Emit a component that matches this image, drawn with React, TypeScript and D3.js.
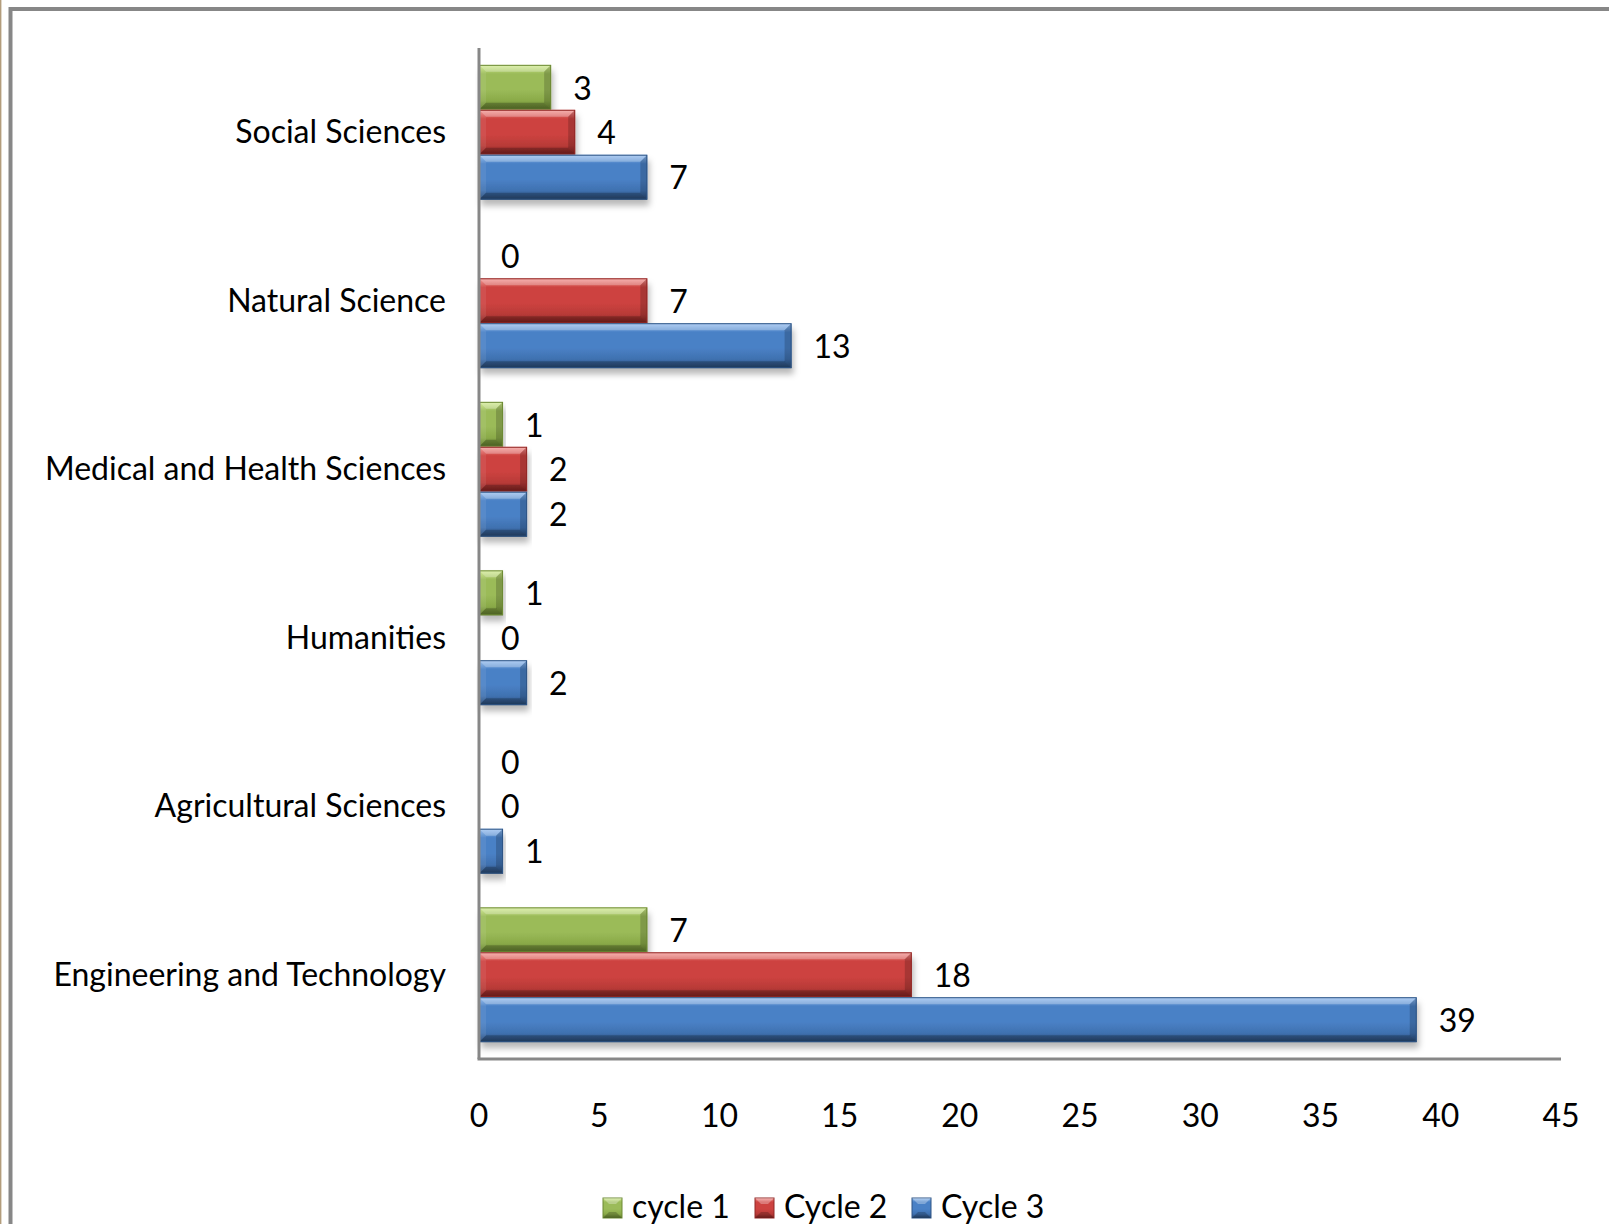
import React, { useEffect, useRef } from 'react';
import * as d3 from 'd3';

// categories top to bottom, as in the picture
const categories = [
  'Social Sciences',
  'Natural Science',
  'Medical and Health Sciences',
  'Humanities',
  'Agricultural Sciences',
  'Engineering and Technology',
];

const seriesNames = ['cycle 1', 'Cycle 2', 'Cycle 3'];

const cycle1 = [3, 0, 1, 1, 0, 7];
const cycle2 = [4, 7, 2, 0, 0, 18];
const cycle3 = [7, 13, 2, 2, 1, 39];

const xTicks = [0, 5, 10, 15, 20, 25, 30, 35, 40, 45];

const palette = [
  { light: '#d2ec8f', base: '#9bbb59', mid: '#8aaa48', dark: '#5f7a2c', edge: '#6d8a35' },
  { light: '#f49592', base: '#cd4340', mid: '#b83a37', dark: '#7f2220', edge: '#922826' },
  { light: '#93bdf0', base: '#4a81c6', mid: '#3f71b0', dark: '#28476f', edge: '#2f5585' },
];

const W = 1609;
const H = 1224;
const FONT = 'Lato, "Open Sans", sans-serif';
const FS = 32;

export default function App() {
  const svgRef = useRef<SVGSVGElement>(null);

  useEffect(() => {
    if (!svgRef.current) return;
    document.body.style.margin = '0';
    const svg = d3.select(svgRef.current);
    svg.selectAll('*').remove();

    const margin = { top: 48, left: 479, right: 1561, bottom: 1059 };
    const values = [cycle1, cycle2, cycle3];

    const x = d3.scaleLinear().domain([0, 45]).range([margin.left, margin.right]);
    const y = d3.scaleBand().domain(categories).range([margin.top, margin.bottom]).padding(0);
    const groupH = y.bandwidth() * 0.8;
    const inner = d3.scaleBand<number>().domain([0, 1, 2]).range([0, groupH]).padding(0);

    const defs = svg.append('defs');
    palette.forEach((p, i) => {
      const g = defs.append('linearGradient')
        .attr('id', `grad${i}`)
        .attr('x1', 0).attr('y1', 0).attr('x2', 0).attr('y2', 1);
      g.append('stop').attr('offset', '0%').attr('stop-color', p.light);
      g.append('stop').attr('offset', '20%').attr('stop-color', p.base);
      g.append('stop').attr('offset', '55%').attr('stop-color', p.base);
      g.append('stop').attr('offset', '80%').attr('stop-color', p.mid);
      g.append('stop').attr('offset', '100%').attr('stop-color', p.dark);
    });
    const f = defs.append('filter').attr('id', 'shadow')
      .attr('x', '-5%').attr('y', '-20%').attr('width', '115%').attr('height', '160%');
    f.append('feDropShadow').attr('dx', 2).attr('dy', 6).attr('stdDeviation', 3)
      .attr('flood-color', '#000').attr('flood-opacity', 0.28);

    // background and frame
    svg.append('rect').attr('width', W).attr('height', H).attr('fill', '#fff');
    svg.append('line').attr('x1', 0.7).attr('x2', 0.7).attr('y1', 0).attr('y2', H)
      .attr('stroke', '#b39d7c').attr('stroke-width', 1.4);
    svg.append('rect').attr('x', 10.5).attr('y', 9).attr('width', W + 40).attr('height', H + 40)
      .attr('fill', 'none').attr('stroke', '#878787').attr('stroke-width', 4);

    // bars
    const bevel = 7;
    categories.forEach((cat, ci) => {
      const gy = (y(cat) || 0) + (y.bandwidth() - groupH) / 2;
      values.forEach((arr, si) => {
        const v = arr[ci];
        const by = gy + (inner(si) || 0);
        const bh = inner.bandwidth();
        const x0 = x(0);
        const x1 = x(v);
        const p = palette[si];
        if (v > 0) {
          const bw = x1 - x0;
          const b = Math.min(bevel, bw / 2);
          const g = svg.append('g');
          g.append('rect')
            .attr('x', x0).attr('y', by).attr('width', bw).attr('height', bh)
            .attr('fill', `url(#grad${si})`)
            .attr('filter', 'url(#shadow)');
          // top bevel
          g.append('polygon')
            .attr('points', `${x0},${by} ${x1},${by} ${x1 - b},${by + b} ${x0 + b},${by + b}`)
            .attr('fill', '#fff').attr('opacity', 0.28);
          // right bevel
          g.append('polygon')
            .attr('points', `${x1},${by} ${x1},${by + bh} ${x1 - b},${by + bh - b} ${x1 - b},${by + b}`)
            .attr('fill', '#000').attr('opacity', 0.18);
          // left bevel
          g.append('polygon')
            .attr('points', `${x0},${by} ${x0 + b},${by + b} ${x0 + b},${by + bh - b} ${x0},${by + bh}`)
            .attr('fill', '#fff').attr('opacity', 0.08);
          // bottom bevel
          g.append('polygon')
            .attr('points', `${x0},${by + bh} ${x0 + b},${by + bh - b} ${x1 - b},${by + bh - b} ${x1},${by + bh}`)
            .attr('fill', '#000').attr('opacity', 0.22);
          g.append('rect')
            .attr('x', x0 + 0.5).attr('y', by + 0.5).attr('width', bw - 1).attr('height', bh - 1)
            .attr('fill', 'none').attr('stroke', p.edge).attr('stroke-width', 1);
        }
        svg.append('text')
          .attr('x', x1 + 22)
          .attr('y', by + bh / 2 + 1)
          .attr('dy', '0.35em')
          .attr('font-family', FONT)
          .attr('font-size', FS)
          .attr('fill', '#000')
          .text(String(v));
      });
    });

    // axes lines
    svg.append('line')
      .attr('x1', x(0)).attr('x2', x(0)).attr('y1', margin.top).attr('y2', margin.bottom)
      .attr('stroke', '#878787').attr('stroke-width', 3);
    svg.append('line')
      .attr('x1', x(0) - 1.5).attr('x2', x(45)).attr('y1', margin.bottom).attr('y2', margin.bottom)
      .attr('stroke', '#878787').attr('stroke-width', 3);

    // category labels
    svg.append('g').selectAll('text')
      .data(categories)
      .join('text')
      .attr('x', 446)
      .attr('y', d => (y(d) || 0) + y.bandwidth() / 2)
      .attr('dy', '0.35em')
      .attr('text-anchor', 'end')
      .attr('font-family', FONT)
      .attr('font-size', FS)
      .attr('fill', '#000')
      .text(d => d);

    // x tick labels
    svg.append('g').selectAll('text')
      .data(xTicks)
      .join('text')
      .attr('x', d => x(d))
      .attr('y', 1127)
      .attr('text-anchor', 'middle')
      .attr('font-family', FONT)
      .attr('font-size', FS)
      .attr('fill', '#000')
      .text(d => String(d));

    // legend
    const legendX = [603, 755, 912];
    seriesNames.forEach((name, i) => {
      const lg = svg.append('g').attr('transform', `translate(${legendX[i]},1198)`);
      lg.append('rect').attr('width', 19).attr('height', 20)
        .attr('fill', `url(#grad${i})`).attr('stroke', palette[i].edge);
      lg.append('polygon').attr('points', '0,0 19,0 13,6 6,6')
        .attr('fill', '#fff').attr('opacity', 0.3);
      lg.append('polygon').attr('points', '0,20 6,14 13,14 19,20')
        .attr('fill', '#000').attr('opacity', 0.2);
      lg.append('text')
        .attr('x', 29).attr('y', 20)
        .attr('font-family', FONT)
        .attr('font-size', FS)
        .attr('fill', '#000')
        .text(name);
    });
  }, []);

  return (
    <svg ref={svgRef} width={W} height={H} style={{ display: 'block' }} />
  );
}
